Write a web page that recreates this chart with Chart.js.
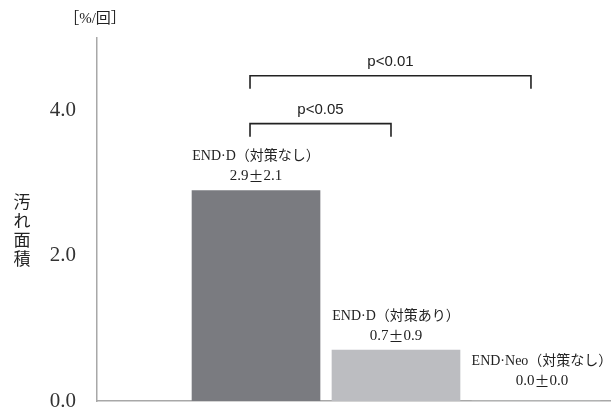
<!DOCTYPE html>
<html>
<head>
<meta charset="utf-8">
<script src="https://cdn.jsdelivr.net/npm/chart.js@4/dist/chart.umd.min.js"></script>
<style>
  html, body { margin: 0; padding: 0; background: #fff; }
  #wrap { width: 611px; height: 410px; position: relative; }
</style>
</head>
<body>
<div id="wrap"><canvas id="chart_dirt"></canvas></div>
<script>
const categories = ['END·D（対策なし）', 'END·D（対策あり）', 'END·Neo（対策なし）'];
const meanValues = [2.9, 0.7, 0.0];
const sdValues = [2.1, 0.9, 0.0];
const barColors = ['#7a7b80', '#bcbdc1', '#d0d1d4'];
const yTicks = [0, 2, 4];
const yTitle = '汚れ面積';
const unitLabel = '［%/回］';
// significance brackets: bar index from / to, label, height in axis units
const sigFrom = [0, 0];
const sigTo = [2, 1];
const sigLabels = ['p<0.01', 'p<0.05'];
const sigLevels = [4.48, 3.82];

const serif = '"Liberation Serif", "Noto Sans CJK JP", serif';
const sans = '"Liberation Sans", "Noto Sans CJK JP", sans-serif';
const cjk = '"Noto Sans CJK JP", sans-serif';

// draw "a±b" with the ± taken from the CJK font (it is wide in the original)
function drawMeanSd(ctx, mean, sd, cx, cy) {
  let a = mean.toFixed(1), b = sd.toFixed(1);
  ctx.font = '15px ' + serif;
  let wa = ctx.measureText(a).width, wb = ctx.measureText(b).width;
  ctx.font = '15px ' + cjk;
  let wp = ctx.measureText('±').width;
  let x0 = cx - (wa + wp + wb) / 2;
  ctx.textAlign = 'left';
  ctx.font = '15px ' + serif;
  ctx.fillText(a, x0, cy);
  ctx.fillText(b, x0 + wa + wp, cy);
  ctx.font = '15px ' + cjk;
  ctx.fillText('±', x0 + wa, cy);
  ctx.textAlign = 'center';
}

const labelPlugin = {
  id: 'labelPlugin',
  afterDatasetsDraw(chart) {
    const ctx = chart.ctx;
    const meta = chart.getDatasetMeta(0);
    const y = chart.scales.y;
    ctx.save();
    ctx.fillStyle = '#222';
    ctx.textAlign = 'center';
    ctx.textBaseline = 'middle';
    meta.data.forEach((bar, i) => {
      let top = bar.y;
      let extra = meanValues[i] === 0 ? 6 : 0;
      ctx.font = '14px ' + serif;
      ctx.fillText(categories[i], bar.x + extra, top - 34 - extra);
      drawMeanSd(ctx, meanValues[i], sdValues[i], bar.x + extra, top - 14 - extra);
    });

    // brackets
    ctx.strokeStyle = '#222';
    ctx.lineWidth = 1.6;
    ctx.font = '15px ' + sans;
    for (let k = 0; k < sigLabels.length; k++) {
      let x1 = meta.data[sigFrom[k]].x - 6;
      let x2 = meta.data[sigTo[k]].x - 5;
      let yy = y.getPixelForValue(sigLevels[k]);
      ctx.beginPath();
      ctx.moveTo(x1, yy + 13);
      ctx.lineTo(x1, yy);
      ctx.lineTo(x2, yy);
      ctx.lineTo(x2, yy + 13);
      ctx.stroke();
      ctx.fillText(sigLabels[k], (x1 + x2) / 2, yy - 14);
    }

    // axis title, stacked vertically
    ctx.font = '17px ' + cjk;
    Array.from(yTitle).forEach((c, i) => {
      ctx.fillText(c, 22, 202 + i * 19);
    });

    // unit
    ctx.font = '15px ' + serif;
    ctx.fillText(unitLabel, 95, 19);
    ctx.restore();
  }
};

new Chart(document.getElementById('chart_dirt'), {
  type: 'bar',
  data: {
    datasets: [{
      data: meanValues.map((v, i) => ({ x: i, y: v })),
      backgroundColor: barColors,
      borderWidth: 0,
      barThickness: 128
    }]
  },
  options: {
    responsive: true,
    maintainAspectRatio: false,
    animation: false,
    layout: { padding: { top: 38, right: 0, bottom: 0, left: 0 } },
    scales: {
      x: {
        type: 'linear',
        offset: false,
        min: -1.136,
        max: 2.536,
        afterFit(scale) { scale.height = 9; },
        grid: { display: false, drawTicks: false },
        ticks: { display: false },
        border: { color: '#a8a8a8', width: 1.5 }
      },
      y: {
        min: 0,
        max: 5,
        afterFit(scale) {
          scale.width = 97;
          scale.paddingTop = 0;
          scale.paddingBottom = 0;
        },
        grid: { display: false, drawTicks: false },
        border: { color: '#a8a8a8', width: 1.5 },
        ticks: {
          stepSize: 2,
          padding: 21,
          color: '#333',
          font: { family: serif, size: 21 },
          callback: v => yTicks.includes(v) ? v.toFixed(1) : null
        }
      }
    },
    plugins: {
      legend: { display: false },
      tooltip: { enabled: false }
    }
  },
  plugins: [labelPlugin]
});
</script>
</body>
</html>
